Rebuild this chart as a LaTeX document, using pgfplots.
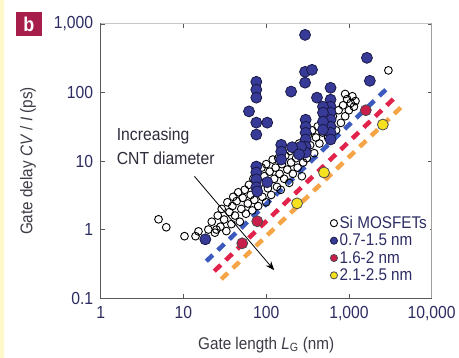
\documentclass[border=0pt]{standalone}
\usepackage{fontspec}
\setmainfont{Liberation Sans}[FakeStretch=0.9]
\usepackage{pgfplots}
\pgfplotsset{compat=1.18}
\usetikzlibrary{arrows.meta}
\definecolor{navy}{RGB}{45,45,100}
\definecolor{annot}{RGB}{45,45,60}
\definecolor{lab}{RGB}{60,60,70}
\definecolor{cntblue}{RGB}{55,58,150}
\definecolor{cntblueedge}{RGB}{25,25,70}
\definecolor{cntred}{RGB}{200,30,75}
\definecolor{cntyellow}{RGB}{245,225,30}
\definecolor{dashblue}{RGB}{60,90,190}
\definecolor{dashred}{RGB}{225,35,75}
\definecolor{dashorange}{RGB}{245,165,70}
\definecolor{bred}{RGB}{168,30,75}
\definecolor{bgyellow}{RGB}{255,248,200}
\begin{document}
\begin{tikzpicture}
\fill[white] (-101pt,-60pt) rectangle (358pt,299pt);
\fill[bgyellow] (-101pt,-60pt) rectangle (-97pt,299pt);
\node[fill=bred,text=white,font=\fontsize{20}{20}\selectfont\bfseries,minimum width=26pt,minimum height=24pt,inner sep=0pt] at (-72pt,275pt) {b};
\begin{axis}[
  scale only axis, width=332pt, height=275pt,
  xmode=log, ymode=log,
  xmin=1, xmax=10000, ymin=0.1, ymax=1000,
  xtick={1,10,100,1000,10000}, xticklabels={1,10,100,{1,000},{10,000}},
  ytick={0.1,1,10,100,1000}, yticklabels={0.1,1,10,100,{1,000}},
  minor tick style={draw=none},
  tick align=inside, major tick length=4pt,
  tick style={gray!70!black, line width=0.8pt},
  axis line style={draw=gray!70!black, line width=1.1pt},
  /pgf/number format/assume math mode=true,
  tick label style={font=\fontsize{17.5}{18}\selectfont, text=navy},
  xticklabel style={yshift=-5pt},
  yticklabel style={xshift=-4pt},
  xlabel={Gate length \textit{L}\textsubscript{G} (nm)},
  ylabel={Gate delay \textit{CV} / \textit{I} (ps)},
  label style={font=\fontsize{17}{18}\selectfont, text=lab},
  xlabel style={at={(axis description cs:0.5,-0.171)}, anchor=center},
  ylabel style={at={(axis description cs:-0.22,0.5)}, anchor=center},
  legend style={at={(rel axis cs:0.995,0.31)}, anchor=north east, draw=none, fill=white,
    font=\fontsize{17}{17}\selectfont, text=navy, row sep=0pt, inner sep=1pt,
    cells={anchor=west}},
  legend image code/.code={\draw[#1, mark size=3.6pt] plot coordinates {(0.05cm,0cm)};},
]
% Si MOSFETs
\addplot[only marks, mark=o, mark size=3.9pt, mark options={draw=black, line width=0.9pt}] coordinates {
(5.0,1.41)(6.2,1.08)(10.3,0.80)(14,0.80)(15.2,0.94)(25,1.0)
(20,1.0)(22,1.3)(24,0.9)(26,1.6)(28,1.1)(29,2.0)(31,1.4)(33,0.95)(34,2.5)(36,1.8)(38,1.2)(40,3.0)(39,2.2)
(42,1.6)(44,2.6)(46,3.5)(48,1.3)(50,2.0)(52,2.9)(55,3.8)(57,1.7)(60,2.4)(62,4.5)(65,3.2)(68,1.9)(70,5.5)(72,2.7)(75,3.9)(78,6.5)(80,2.2)
(85,4.8)(88,8.0)(90,3.0)(95,6.0)(100,2.5)(100,9.0)(105,4.0)(110,7.0)(115,3.2)(120,10.5)(125,5.5)(130,8.0)(135,4.2)(140,11)(145,6.5)(150,3.8)(155,9.0)
(165,5.5)(170,12)(180,7.5)(190,4.8)(195,14)(200,9.5)(210,6.5)(220,16)(230,11)(240,8.0)(250,18)(260,13)(270,6.0)(280,9.5)(290,20)(300,14)(310,11)(320,24)
(340,17)(360,28)(380,13)(400,22)(420,32)(440,18)(480,26)(520,38)(560,22)(600,30)(640,45)(700,28)(750,55)(800,36)(850,65)(900,45)(950,80)(1000,55)(1050,70)(1100,88)(1150,62)(900,95)(1200,75)
(3000,210)
};
\addlegendentry{Si MOSFETs}
% 0.7-1.5 nm
\addplot[only marks, mark=*, mark size=5.5pt, mark options={fill=cntblue, draw=cntblueedge, line width=0.8pt}] coordinates {
(295,692)(295,200)(358,214)(295,139)(200,103)(76,143)(76,110)(76,84)(62,53)(411,84)(1650,320)(1790,148)
(600,117)(600,78.5)(600,62)(600,50.8)(600,40)(600,31.6)(600,25.8)(600,20.6)
(486,62)(486,50.8)(486,37.5)(486,28.6)
(76,36.3)(103,36.3)(76,24.3)
(300,40)(300,31.6)(300,25.8)(300,20.6)(300,16.2)(300,13.3)
(264,16.2)(152,17.2)(152,13.7)(152,10.5)(206,15.9)(250,12.5)
(76,8.3)(76,6.8)(76,5.4)(76,4.15)(103,4.9)(78,3.6)
(18.4,0.72)
};
\addlegendentry{0.7-1.5 nm}
% dashed scaling lines
\addplot[dashblue, line width=4.5pt, dash pattern=on 9pt off 7pt, forget plot] coordinates {(18.9,0.345) (2950,117)};
\addplot[dashred, line width=4.5pt, dash pattern=on 9pt off 7pt, forget plot] coordinates {(23.6,0.247) (3680,86.7)};
\addplot[dashorange, line width=4.5pt, dash pattern=on 9pt off 7pt, forget plot] coordinates {(28.7,0.189) (4730,68.5)};
% 1.6-2 nm
\addplot[only marks, mark=*, mark size=5.5pt, mark options={fill=cntred, draw=black!70, line width=0.8pt}] coordinates {
(51.4,0.63)(78,1.32)(1600,55)
};
\addlegendentry{1.6-2 nm}
% 2.1-2.5 nm
\addplot[only marks, mark=*, mark size=5.5pt, mark options={fill=cntyellow, draw=black!70, line width=0.8pt}] coordinates {
(236,2.41)(500,6.8)(2570,34)
};
\addlegendentry{2.1-2.5 nm}
\node[anchor=north west, align=left, inner sep=0pt, text=annot, font=\fontsize{17.5}{24}\selectfont] at (axis cs:1.56,31) {Increasing\\CNT diameter};
\draw[-{Stealth[length=9pt,width=7pt]}, line width=0.8pt, black] (axis cs:13.6,5.96) -- (axis cs:125,0.255);
\draw[gray!45, line width=1.1pt] (rel axis cs:0,1) -- (rel axis cs:1,1) -- (rel axis cs:1,0);
\end{axis}
\end{tikzpicture}
\end{document}
